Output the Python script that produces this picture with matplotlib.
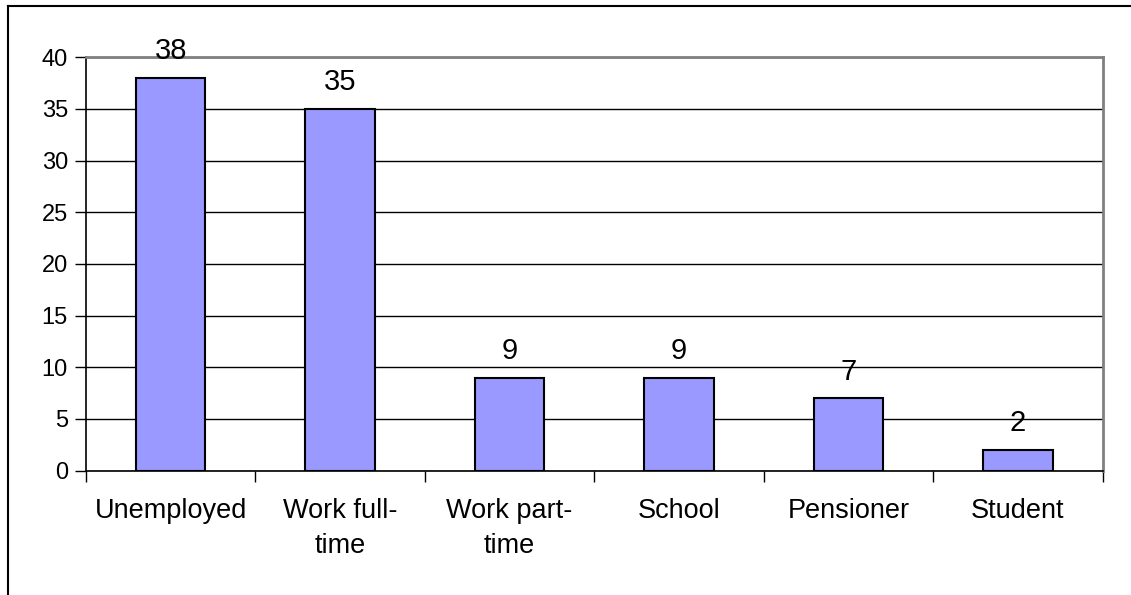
import matplotlib.pyplot as plt
from matplotlib.lines import Line2D

categories = ['Unemployed', 'Work full-\ntime', 'Work part-\ntime', 'School', 'Pensioner', 'Student']
counts = [38, 35, 9, 9, 7, 2]
y_ticks = [0, 5, 10, 15, 20, 25, 30, 35, 40]

plt.rcParams['font.family'] = ['Liberation Sans', 'DejaVu Sans']

fig = plt.figure(figsize=(11.31, 5.95), dpi=100)
ax = fig.add_axes([0.076, 0.209, 0.899, 0.695])

x = list(range(len(categories)))
bars = ax.bar(x, counts, width=0.41, color='#9999ff', edgecolor='black', linewidth=1.5, zorder=3)

for b, v in zip(bars, counts):
    ax.annotate(str(v), (b.get_x() + b.get_width() / 2, v), xytext=(0, 9),
                textcoords='offset points', ha='center', va='bottom', fontsize=21)

ax.set_xlim(-0.5, len(categories) - 0.5)
ax.set_ylim(0, 40)
ax.set_yticks(y_ticks)
ax.tick_params(axis='y', labelsize=17, length=8, width=1, direction='out', pad=5)

# category labels centred, tick marks at the boundaries
ax.set_xticks(x)
ax.set_xticklabels(categories, fontsize=19.5, linespacing=1.45)
ax.tick_params(axis='x', which='major', length=0, pad=20)
ax.set_xticks([i - 0.5 for i in range(len(categories) + 1)], minor=True)
ax.tick_params(axis='x', which='minor', length=8, width=1, direction='out')

ax.yaxis.grid(True, color='black', linewidth=1)
ax.set_axisbelow(True)
for side in ['left', 'bottom']:
    ax.spines[side].set_color('black')
    ax.spines[side].set_linewidth(1.2)
for side in ['top', 'right']:
    ax.spines[side].set_color('#808080')
    ax.spines[side].set_linewidth(2)

# chart area border (left and top edges)
fig.add_artist(Line2D([8 / 1131, 8 / 1131], [0, 1 - 6 / 595], transform=fig.transFigure, color='black', linewidth=1.5))
fig.add_artist(Line2D([8 / 1131, 1], [1 - 6 / 595, 1 - 6 / 595], transform=fig.transFigure, color='black', linewidth=1.5))

fig.savefig('out.png', dpi=100)
